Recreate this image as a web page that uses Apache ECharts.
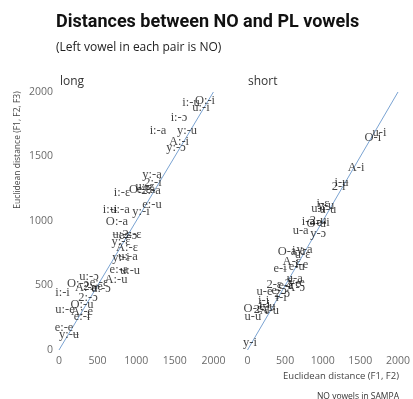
<!DOCTYPE html>
<html>
<head>
<meta charset="utf-8">
<script src="https://cdn.jsdelivr.net/npm/echarts@6/dist/echarts.min.js"></script>
<style>
	html, body { margin: 0; padding: 0; background: #fff; }
	#main { width: 413px; height: 399px; }
</style>
</head>
<body>
<div id="main"></div>
<script>
//刻度
var axisTicks = [0, 500, 1000, 1500, 2000];

//long 元音对
var longLabels = ['i:-u', 'O:-i', 'u:-i', 'i:-ɔ', 'i:-a', 'y:-u', 'A:-i', 'y:-ɔ', 'y:-a', '2:-i',
	'O:-ɛ', 'e:-a', '2:-a', 'u:-ɛ', 'i:-ɛ', 'e:-u', 'i:-ɨ', 'u:-a', 'y:-i', 'O:-a',
	'ʉ:-ɛ', 'e:-ɔ', '2:-ɛ', 'y:-ɛ', 'A:-ɛ', 'y:-ɨ', 'ʉ:-a', 'e:-a', 'ʉ:-u', 'u:-ɔ',
	'A:-u', 'i:-i', 'O:-ɔ', 'A:-a', '2:-e', 'e:-ɛ', 'ʉ:-ɔ', '2:-ɔ', 'O:-u', 'u:-e',
	'A:-e', 'e:-ɨ', 'e:-e', 'y:-ʉ'];
var longX = [1710, 1891, 1839, 1554, 1282, 1658, 1554, 1516, 1205, 1218,
	1049, 1127, 1192, 1114, 816, 1205, 661, 790, 1062, 751,
	816, 894, 946, 803, 881, 803, 894, 777, 920, 389,
	738, 45, 246, 350, 440, 518, 544, 376, 298, 78,
	298, 298, 65, 130];
var longY = [1915, 1930, 1876, 1798, 1698, 1698, 1612, 1566, 1357, 1295,
	1240, 1240, 1233, 1264, 1217, 1124, 1085, 1085, 1070, 992,
	891, 884, 891, 837, 791, 713, 721, 620, 612, 566,
	543, 442, 512, 481, 488, 519, 473, 403, 349, 310,
	295, 256, 171, 116];

//short 元音对
var shortLabels = ['u-i', 'O-i', 'A-i', '2-i', 'i-ʉ', 'i-ɛ', 'u-ɨ', 'ʉ-u', 'y-u', 'i-a',
	'O-u', 'e-i', '2-u', 'u-a', 'y-ɔ', 'O-a', 'ɨ-a', 'u-ɛ', 'y-a', 'A-ɛ',
	'i-e', 'e-ɨ', 'e-u', 'ʉ-a', 'y-e', '2-ɛ', 'e-ɛ', '2-e', 'A-ɔ', 'u-e',
	'e-ɔ', '2-ɔ', 'ɨ-i', 'i-i', 'i-ɨ', 'O-ɛ', '2-a', 'A-u', 'e-ʉ', 'u-u',
	'y-i'];
var shortX = [1755, 1665, 1444, 1211, 1250, 1004, 939, 1069, 1043, 810,
	913, 1004, 939, 706, 939, 525, 680, 732, 758, 589,
	719, 434, 654, 628, 654, 356, 512, 602, 641, 227,
	421, 460, 447, 214, 227, 71, 188, 291, 266, 71,
	32];
var shortY = [1682, 1643, 1411, 1264, 1295, 1132, 1093, 1085, 1116, 992,
	977, 984, 1000, 922, 899, 760, 767, 736, 775, 682,
	659, 628, 643, 550, 519, 504, 496, 512, 481, 450,
	457, 434, 403, 380, 349, 318, 310, 302, 333, 256,
	54];

//参考线 y = x
var refLine = [[0, 0], [2000, 2000]];

function buildPoints(xs, ys, labels) {
	var out = [];
	for (var i = 0; i < xs.length; i++) {
		out.push([xs[i], ys[i], labels[i]]);
	}
	return out;
}

function makeAxis(idx, showLabel) {
	return {
		type: 'value',
		gridIndex: idx,
		min: axisTicks[0],
		max: axisTicks[axisTicks.length - 1],
		interval: 500,
		axisLine: { show: false },
		axisTick: { show: false },
		splitLine: { show: false },
		axisLabel: {
			show: showLabel,
			color: '#6b6b6b',
			fontSize: 10.5,
			fontFamily: 'Open Sans',
			margin: 6,
			formatter: function(v) { return String(v); }
		}
	};
}

function labelSeries(idx, data) {
	return {
		type: 'scatter',
		xAxisIndex: idx,
		yAxisIndex: idx,
		symbolSize: 1,
		itemStyle: { color: 'rgba(0,0,0,0)' },
		data: data,
		label: {
			show: true,
			position: 'inside',
			formatter: function(p) { return p.value[2]; },
			fontFamily: 'Liberation Serif',
			fontSize: 12.5,
			color: '#111'
		},
		z: 3
	};
}

function lineSeries(idx) {
	return {
		type: 'line',
		xAxisIndex: idx,
		yAxisIndex: idx,
		data: refLine,
		symbol: 'none',
		lineStyle: { color: '#7aa3d2', width: 1 },
		z: 2
	};
}

var myChart = echarts.init(document.getElementById('main'));
var option = {
	animation: false,
	title: [{
		text: 'Distances between NO and PL vowels',
		left: 51, top: 8,
		textStyle: { fontSize: 18, fontWeight: 'bold', fontFamily: 'Roboto', color: '#111' }
	}, {
		text: '(Left vowel in each pair is NO)',
		left: 51, top: 37,
		textStyle: { fontSize: 12, fontWeight: 'normal', fontFamily: 'Open Sans', color: '#222' }
	}, {
		text: 'long',
		left: 55, top: 71,
		textStyle: { fontSize: 12, fontWeight: 'normal', fontFamily: 'Open Sans', color: '#333' }
	}, {
		text: 'short',
		left: 243, top: 71,
		textStyle: { fontSize: 12, fontWeight: 'normal', fontFamily: 'Open Sans', color: '#333' }
	}, {
		text: 'Euclidean distance (F1, F2)',
		right: 9, top: 366,
		textStyle: { fontSize: 9.5, fontWeight: 'normal', fontFamily: 'Open Sans', color: '#444' }
	}, {
		text: 'NO vowels in SAMPA',
		right: 9, top: 387,
		textStyle: { fontSize: 8.5, fontWeight: 'normal', fontFamily: 'Open Sans', color: '#333' }
	}],
	graphic: [{
		type: 'text',
		x: 18, y: 150,
		rotation: Math.PI / 2,
		style: {
			text: 'Euclidean distance (F1, F2, F3)',
			align: 'center',
			verticalAlign: 'middle',
			fontSize: 8.5,
			fontFamily: 'Open Sans',
			fill: '#444'
		}
	}],
	grid: [
		{ left: 59, top: 92, width: 154.4, height: 258 },
		{ left: 247.5, top: 92, width: 154.4, height: 258 }
	],
	xAxis: [makeAxis(0, true), makeAxis(1, true)],
	yAxis: [makeAxis(0, true), makeAxis(1, false)],
	series: [
		lineSeries(0),
		lineSeries(1),
		labelSeries(0, buildPoints(longX, longY, longLabels)),
		labelSeries(1, buildPoints(shortX, shortY, shortLabels))
	]
};
myChart.setOption(option);
</script>
</body>
</html>
